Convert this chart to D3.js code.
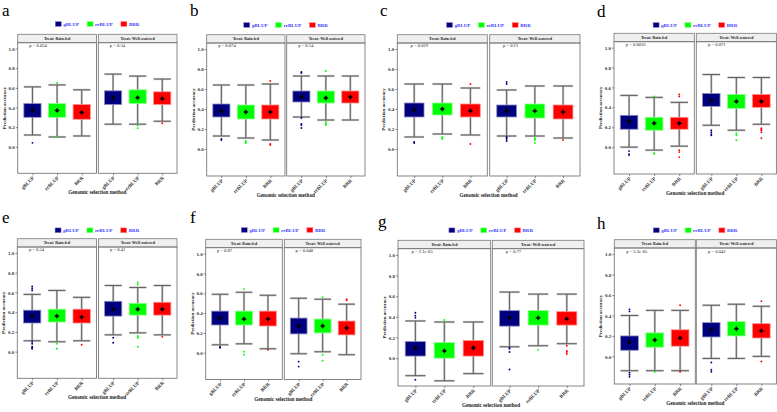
<!DOCTYPE html>
<html><head><meta charset="utf-8">
<script src="https://cdn.jsdelivr.net/npm/d3@7"></script>
<style>body{margin:0;background:#fff} svg{display:block} text{font-family:'Liberation Serif','Times New Roman',serif}</style>
</head><body>
<svg id="chart" width="777" height="412"></svg>
<script>
const methods = ["gBLUP","rrBLUP","BRR"];
const treatments = ["Treat: Rain-fed","Treat: Well-watered"];
const yTicks = [0.0,0.2,0.4,0.6,0.8,1.0];
const panelLetters = ["a","b","c","d","e","f","g","h"];
const pValues = [
  ["p = 0.054","p = 0.34"],["p = 0.074","p = 0.14"],["p = 0.019","p = 0.21"],["p = 0.0016","p = 0.071"],
  ["p = 0.54","p = 0.41"],["p = 0.87","p = 0.048"],["p = 2.1e-05","p = 0.77"],["p = 3.3e-05","p = 0.042"]];
const xTitle = "Genomic selection method";
const yTitle = "Prediction accuracy";
// per treatment, per method: [lower whisker, Q1, Q3, upper whisker, mean]
const statsA = [[[0.12,0.30,0.44,0.61,0.37],[0.10,0.30,0.44,0.63,0.37],[0.11,0.28,0.43,0.58,0.35]],
                [[0.23,0.43,0.57,0.74,0.50],[0.23,0.44,0.58,0.72,0.50],[0.26,0.43,0.56,0.69,0.49]]];
const outA = [[[0.04],[0.10,0.65],[]],[[],[0.19,0.22],[0.24]]];
const statsB = [[[0.13,0.32,0.45,0.64,0.38],[0.11,0.30,0.44,0.64,0.37],[0.09,0.30,0.44,0.65,0.37]],
                [[0.32,0.47,0.58,0.73,0.52],[0.29,0.46,0.58,0.73,0.51],[0.29,0.46,0.58,0.73,0.52]]];
const outB = [[[0.09,0.10],[0.08,0.07,0.06],[0.68,0.05,0.04]],[[0.77,0.76,0.31,0.25,0.24,0.21],[0.78,0.27,0.25,0.24],[]]];
const statsC = [[[0.12,0.32,0.46,0.65,0.39],[0.15,0.34,0.46,0.65,0.40],[0.14,0.32,0.45,0.61,0.38]],
                [[0.13,0.32,0.44,0.59,0.38],[0.13,0.31,0.45,0.63,0.38],[0.11,0.30,0.44,0.63,0.37]]];
const outC = [[[0.07,0.06],[0.12,0.11,0.10],[0.65,0.05]],[[0.67,0.65,0.12,0.11,0.10,0.08],[0.11,0.10,0.09,0.06],[0.09]]];
const statsD = [[[0.00,0.18,0.32,0.52,0.26],[-0.03,0.17,0.30,0.50,0.24],[0.01,0.18,0.30,0.45,0.24]],
                [[0.22,0.41,0.54,0.73,0.47],[0.17,0.39,0.53,0.70,0.46],[0.23,0.40,0.53,0.70,0.46]]];
const outD = [[[-0.04,-0.07,-0.08],[0.51,-0.06,-0.07],[0.53,0.51,-0.03,-0.05,-0.10]],[[0.17,0.15,0.13,0.12],[0.14,0.12,0.07],[0.19,0.18,0.17,0.15,0.09]]];
const statsE = [[[0.11,0.29,0.42,0.58,0.36],[0.10,0.30,0.43,0.62,0.36],[0.11,0.29,0.43,0.55,0.35]],
                [[0.17,0.36,0.51,0.67,0.43],[0.19,0.37,0.49,0.65,0.43],[0.17,0.37,0.50,0.67,0.43]]];
const outE = [[[0.66,0.64,0.62,0.10,0.08,0.05,0.04,0.03],[0.08,0.03],[0.07]],[[0.14,0.09],[0.70,0.68,0.16,0.15,0.14,0.05],[0.15]]];
const statsF = [[[0.08,0.28,0.42,0.59,0.35],[0.09,0.28,0.42,0.61,0.34],[0.04,0.27,0.42,0.58,0.34]],
                [[-0.01,0.19,0.35,0.55,0.27],[0.01,0.20,0.34,0.54,0.27],[-0.02,0.18,0.32,0.49,0.25]]];
const outF = [[[0.06,0.05],[0.64,0.01,-0.02],[0.03]],[[-0.09,-0.14],[0.56,-0.02,-0.08],[0.54,0.53]]];
const statsG = [[[-0.17,0.02,0.16,0.36,0.10],[-0.22,0.00,0.15,0.35,0.07],[-0.15,0.02,0.17,0.35,0.10]],
                [[0.11,0.31,0.46,0.64,0.39],[0.12,0.32,0.46,0.62,0.39],[0.14,0.32,0.45,0.62,0.38]]];
const outG = [[[0.44,0.41,0.39,-0.21],[0.37],[]],[[0.10,0.09,0.06,-0.11],[0.08],[0.12,0.07,0.06,0.04]]];
const statsH = [[[-0.14,0.06,0.20,0.40,0.14],[-0.14,0.09,0.23,0.45,0.16],[-0.14,0.10,0.26,0.45,0.18]],
                [[-0.02,0.19,0.33,0.50,0.26],[-0.02,0.20,0.34,0.51,0.27],[0.00,0.18,0.32,0.49,0.25]]];
const outH = [[[0.46,0.44,-0.16,-0.18,-0.20],[-0.15],[0.50,-0.15]],[[-0.06,-0.13,-0.15],[],[0.54,-0.05]]];

const allStats = [statsA,statsB,statsC,statsD,statsE,statsF,statsG,statsH];
const allOut = [outA,outB,outC,outD,outE,outF,outG,outH];

// layout (pixels)
const layout = [
  {lx:2,  ly:16, l:[17.7,96.5],  r:[98.3,177],  st:34.3, top:42.7, bot:173.3, leg:24},
  {lx:190,ly:16, l:[206.7,285],  r:[286.7,365], st:34.7, top:43,   bot:176,   leg:25},
  {lx:380,ly:16, l:[397.3,487.3],r:[489.7,580], st:34.7, top:43,   bot:176,   leg:25},
  {lx:597,ly:17, l:[614,694.3],  r:[696.3,776.4],st:33.3,top:41.7, bot:174,   leg:25},
  {lx:2,  ly:223,l:[17.3,96.5],  r:[98.5,177],  st:238.7,top:247,  bot:378.3, leg:230.3},
  {lx:190,ly:223,l:[205.7,282.3],r:[284.3,361], st:239.3,top:247.7,bot:379.5, leg:230},
  {lx:378,ly:227,l:[398,490.7],  r:[492.3,584], st:240.3,top:248.7,bot:386,   leg:230.3},
  {lx:597,ly:229,l:[614.3,695.3],r:[696.3,776.4],st:239.7,top:248,bot:384,    leg:230.3}
];

const color = d3.scaleOrdinal().domain(methods).range(["#00007f","#00ff00","#ff0000"]);
const light = m => d3.interpolateRgb(color(m), "#ffffff")(0.55);
const FONT = "'Liberation Serif','Times New Roman',serif";

const svg = d3.select("#chart").attr("font-family", FONT);

layout.forEach((L, pi) => {
  const g = svg.append("g");
  const y = d3.scaleLinear().domain([-0.27, 1.06]).range([L.bot, L.top]);
  const stats = allStats[pi], outs = allOut[pi];

  g.append("text").attr("x", L.lx).attr("y", L.ly).attr("font-size", 17).attr("fill", "#000").text(panelLetters[pi]);

  [L.l, L.r].forEach((ext, ti) => {
    const x = d3.scalePoint().domain(methods).range(ext).padding(0.6);
    const step = x.step();
    const bw = step * 0.7;
    const fg = g.append("g");
    fg.append("rect").attr("x", ext[0]).attr("y", L.top).attr("width", ext[1]-ext[0]).attr("height", L.bot-L.top)
      .attr("fill", "#fff");
    fg.append("rect").attr("x", ext[0]).attr("y", L.st).attr("width", ext[1]-ext[0]).attr("height", L.top-L.st)
      .attr("fill", "#efefef").attr("stroke", "#7a7a7a").attr("stroke-width", 0.8);
    fg.append("text").attr("x", (ext[0]+ext[1])/2).attr("y", (L.st+L.top)/2 + 1.4).attr("text-anchor","middle")
      .attr("font-size", 4).attr("font-weight","bold").attr("fill","#222").text(treatments[ti]);
    fg.append("text").attr("x", ext[0] + step*0.47).attr("y", y(1.0) - 1.6).attr("font-size", 4.6).attr("fill","#222")
      .text(pValues[pi][ti]);

    methods.forEach((m, mi) => {
      const s = stats[ti][mi];
      const cx = x(m);
      const wg = fg.append("g");
      [["#c4c4c4",2.2],["#4a4a4a",0.8]].forEach(([c,w]) => {
        wg.append("line").attr("x1", cx).attr("x2", cx).attr("y1", y(s[0])).attr("y2", y(s[3])).attr("stroke", c).attr("stroke-width", w);
        [s[0], s[3]].forEach(v => wg.append("line").attr("x1", cx-bw/2).attr("x2", cx+bw/2).attr("y1", y(v)).attr("y2", y(v))
          .attr("stroke", c).attr("stroke-width", w));
      });
      fg.append("rect").attr("x", cx-bw/2).attr("y", y(s[2])).attr("width", bw).attr("height", y(s[1])-y(s[2]))
        .attr("fill", color(m)).attr("stroke", light(m)).attr("stroke-width", 0.8);
      fg.selectAll(null).data(outs[ti][mi]).enter().append("circle")
        .attr("cx", cx).attr("cy", d => y(d)).attr("r", 0.95).attr("fill", color(m));
      fg.append("circle").attr("cx", cx).attr("cy", y(s[4])).attr("r", 1.7).attr("fill", "#000");
      fg.append("path").attr("d", `M${cx-2.6},${y(s[4])}H${cx+2.6}M${cx},${y(s[4])-2.6}V${y(s[4])+2.6}`)
        .attr("stroke","#000").attr("stroke-width",0.7);
    });

    fg.append("rect").attr("x", ext[0]).attr("y", L.top).attr("width", ext[1]-ext[0]).attr("height", L.bot-L.top)
      .attr("fill", "none").attr("stroke", "#7a7a7a").attr("stroke-width", 0.9);

    const xa = fg.append("g").attr("transform", `translate(0,${L.bot})`)
      .call(d3.axisBottom(x).tickSize(2).tickSizeOuter(0));
    xa.select(".domain").remove();
    xa.selectAll(".tick line").attr("stroke", "#444").attr("stroke-width", 0.6);
    xa.selectAll(".tick text").attr("font-family", FONT).attr("font-size", 5).attr("font-weight","bold").attr("fill","#333")
      .attr("text-anchor","end").attr("dy", 0).attr("y", 0)
      .attr("transform", "translate(1.5,5) rotate(-45)");

    if (ti === 0) {
      const ya = fg.append("g").attr("transform", `translate(${ext[0]},0)`)
        .call(d3.axisLeft(y).tickValues(yTicks).tickFormat(d3.format(".1f")).tickSize(2).tickSizeOuter(0));
      ya.select(".domain").remove();
      ya.selectAll(".tick line").attr("stroke", "#444").attr("stroke-width", 0.6);
      ya.selectAll(".tick text").attr("font-family", FONT).attr("font-size", 5).attr("font-weight","bold").attr("fill","#333").attr("x", -3);
      g.append("text").attr("transform", `translate(${ext[0]-12},${(L.top+L.bot)/2}) rotate(-90)`)
        .attr("text-anchor","middle").attr("font-size", 5).attr("font-weight","bold").attr("fill","#222").text(yTitle);
    }
  });

  const cxAll = (L.l[0] + L.r[1]) / 2;
  g.append("text").attr("x", cxAll).attr("y", L.bot + 21).attr("text-anchor","middle")
    .attr("font-size", 5.2).attr("font-weight","bold").attr("fill","#222").text(xTitle);

  const lg = g.append("g");
  let xpos = 0;
  methods.forEach(m => {
    lg.append("rect").attr("x", xpos).attr("y", -2.4).attr("width", 6).attr("height", 4.8)
      .attr("fill", color(m)).attr("stroke", light(m)).attr("stroke-width", 0.5);
    const t = lg.append("text").attr("x", xpos + 8).attr("y", 1.8).attr("font-size", 5).attr("font-weight","bold")
      .attr("fill", "#3b3bff").text(m);
    xpos += 8 + t.node().getComputedTextLength() + 8;
  });
  const lw = xpos - 8;
  lg.attr("transform", `translate(${cxAll - lw/2},${L.leg})`);
});
</script>
</body></html>
